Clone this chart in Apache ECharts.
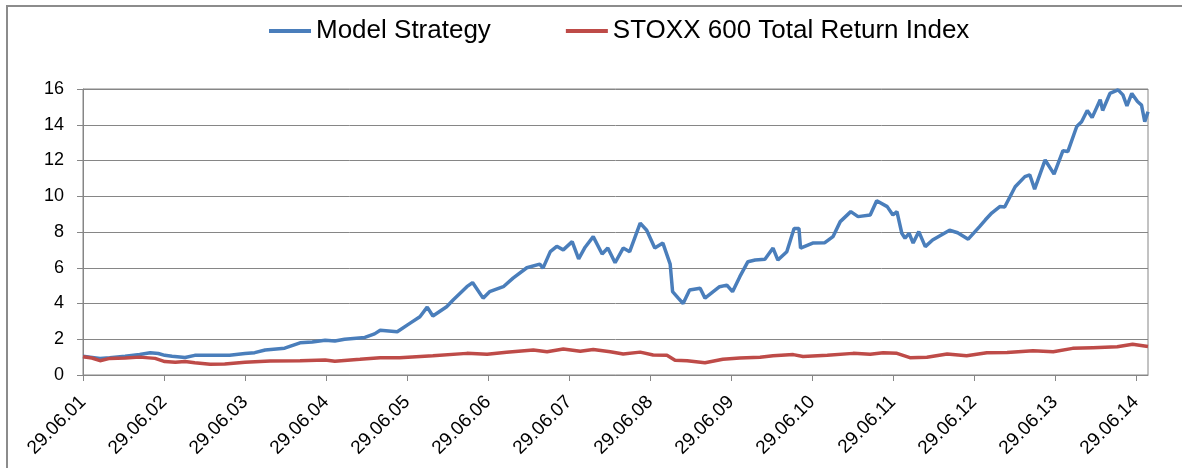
<!DOCTYPE html>
<html>
<head>
<meta charset="utf-8">
<script src="https://cdn.jsdelivr.net/npm/echarts@6/dist/echarts.min.js"></script>
<style>
  html, body { margin: 0; padding: 0; background: #fff; }
  #frame { position: absolute; left: 6px; top: 5px; width: 1176px; height: 463px;
           border-left: 2px solid #8c8c8c; border-top: 2px solid #8c8c8c; box-sizing: border-box; }
  #chart { position: absolute; left: 0; top: 0; width: 1182px; height: 468px; }
</style>
</head>
<body>
<div id="frame"></div>
<div id="chart"></div>
<script>
// time = years since 29.06.2001
const stratTime = [0, 0.09, 0.21, 0.33, 0.52, 0.70, 0.83, 0.93, 1.01, 1.10, 1.26, 1.38, 1.57, 1.81,
  2.00, 2.12, 2.25, 2.49, 2.68, 2.83, 2.99, 3.11, 3.23, 3.48, 3.60, 3.67, 3.88, 4.04, 4.16, 4.25,
  4.32, 4.49, 4.57, 4.74, 4.81, 4.94, 5.02, 5.19, 5.31, 5.48, 5.64, 5.68, 5.77, 5.85, 5.93, 6.04,
  6.12, 6.20, 6.30, 6.41, 6.48, 6.57, 6.67, 6.75, 6.88, 6.96, 7.06, 7.16, 7.25, 7.28, 7.35, 7.41,
  7.49, 7.62, 7.68, 7.86, 7.95, 8.02, 8.11, 8.21, 8.30, 8.42, 8.52, 8.58, 8.69, 8.78, 8.84, 8.86,
  9.01, 9.16, 9.26, 9.35, 9.48, 9.57, 9.72, 9.80, 9.93, 10.00, 10.05, 10.11, 10.15, 10.20, 10.25,
  10.32, 10.40, 10.49, 10.70, 10.80, 10.93, 11.07, 11.14, 11.22, 11.32, 11.38, 11.51, 11.63, 11.69,
  11.75, 11.88, 11.99, 12.10, 12.16, 12.27, 12.33, 12.40, 12.46, 12.56, 12.59, 12.68, 12.78, 12.84,
  12.89, 12.95, 13.02, 13.07, 13.11, 13.15];
const stratValue = [1.05, 1.0, 0.93, 0.97, 1.05, 1.15, 1.25, 1.2, 1.1, 1.05, 0.98, 1.1, 1.1, 1.1,
  1.2, 1.25, 1.4, 1.5, 1.8, 1.85, 1.95, 1.9, 2.0, 2.1, 2.3, 2.5, 2.42, 2.9, 3.26, 3.8,
  3.3, 3.82, 4.2, 4.94, 5.17, 4.3, 4.66, 4.94, 5.42, 6.0, 6.2, 5.98, 6.9, 7.2, 7.0, 7.46,
  6.5, 7.15, 7.74, 6.77, 7.1, 6.28, 7.1, 6.9, 8.5, 8.1, 7.1, 7.38, 6.2, 4.66, 4.3, 4.0,
  4.75, 4.85, 4.3, 4.94, 5.03, 4.66, 5.5, 6.34, 6.43, 6.47, 7.1, 6.43, 6.9, 8.2, 8.2, 7.1,
  7.38, 7.4, 7.74, 8.58, 9.14, 8.86, 8.95, 9.75, 9.42, 8.95, 9.14, 7.93, 7.65, 7.93, 7.38,
  8.02, 7.18, 7.55, 8.1, 7.96, 7.6, 8.3, 8.67, 9.06, 9.42, 9.4, 10.53, 11.1, 11.2,
  10.4, 12.03, 11.24, 12.55, 12.5, 13.9, 14.17, 14.8, 14.4, 15.4, 14.8, 15.75, 15.95, 15.67,
  15.05, 15.75, 15.3, 15.1, 14.17, 14.73];

const stoxxTime = [0, 0.11, 0.21, 0.33, 0.52, 0.70, 0.89, 1.01, 1.14, 1.26, 1.38, 1.57, 1.75, 2.00,
  2.31, 2.68, 2.99, 3.11, 3.42, 3.67, 3.91, 4.32, 4.74, 4.99, 5.23, 5.56, 5.73, 5.93, 6.14, 6.30,
  6.51, 6.67, 6.88, 7.04, 7.21, 7.31, 7.46, 7.68, 7.90, 8.11, 8.36, 8.52, 8.77, 8.89, 9.19, 9.51,
  9.72, 9.88, 10.05, 10.21, 10.42, 10.67, 10.91, 11.16, 11.41, 11.73, 11.98, 12.22, 12.47, 12.77,
  12.96, 13.15];
const stoxxValue = [1.02, 0.95, 0.8, 0.93, 0.95, 1.0, 0.93, 0.75, 0.71, 0.75, 0.68, 0.6, 0.62, 0.71,
  0.78, 0.8, 0.84, 0.77, 0.88, 0.97, 0.97, 1.08, 1.21, 1.16, 1.27, 1.4, 1.3, 1.45, 1.33, 1.43,
  1.3, 1.17, 1.28, 1.12, 1.1, 0.82, 0.8, 0.69, 0.88, 0.95, 0.99, 1.08, 1.14, 1.04, 1.1, 1.21,
  1.16, 1.25, 1.21, 0.97, 0.99, 1.18, 1.08, 1.25, 1.26, 1.36, 1.3, 1.49, 1.53, 1.58,
  1.72, 1.6];

const firstYear = 1; // 29.06.01
const endTime = 13.15;
const yTicks = { min: 0, max: 16, step: 2 };

function pairs(t, v) {
  return t.map((x, i) => [x, v[i]]);
}

const chart = echarts.init(document.getElementById('chart'));
const axisGray = '#868686';
const font = 'Liberation Sans';

chart.setOption({
  animation: false,
  textStyle: { fontFamily: font },
  legend: {
    left: 264,
    top: 13,
    icon: 'rect',
    itemWidth: 42,
    itemHeight: 4,
    itemGap: 75,
    textStyle: { fontSize: 26, color: '#000', fontFamily: font },
    data: ['Model Strategy', 'STOXX 600 Total Return Index']
  },
  grid: {
    left: 83,
    right: 34,
    top: 89,
    bottom: 93,
    show: true,
    borderColor: axisGray,
    borderWidth: 1
  },
  xAxis: {
    type: 'value',
    min: 0,
    max: endTime,
    interval: 1,
    splitLine: { show: false },
    axisLine: { show: true, lineStyle: { color: axisGray } },
    axisTick: { show: true, length: 6, lineStyle: { color: axisGray } },
    axisLabel: {
      rotate: 45,
      fontSize: 19,
      color: '#000',
      margin: 24,
      showMaxLabel: false,
      formatter: v => {
        if (Math.abs(v - Math.round(v)) > 1e-6) return '';
        return '29.06.' + String(firstYear + Math.round(v)).padStart(2, '0');
      }
    }
  },
  yAxis: {
    type: 'value',
    min: yTicks.min,
    max: yTicks.max,
    interval: yTicks.step,
    axisLine: { show: true, lineStyle: { color: axisGray } },
    axisTick: { show: true, length: 6, lineStyle: { color: axisGray } },
    splitLine: { lineStyle: { color: axisGray, width: 1 } },
    axisLabel: { fontSize: 18, color: '#000', margin: 19 }
  },
  series: [
    {
      name: 'Model Strategy',
      type: 'line',
      data: pairs(stratTime, stratValue),
      showSymbol: false,
      symbol: 'none',
      itemStyle: { color: '#4a7ebb' },
      lineStyle: { color: '#4a7ebb', width: 3.5 }
    },
    {
      name: 'STOXX 600 Total Return Index',
      type: 'line',
      data: pairs(stoxxTime, stoxxValue),
      showSymbol: false,
      symbol: 'none',
      itemStyle: { color: '#be4b48' },
      lineStyle: { color: '#be4b48', width: 3.5 }
    }
  ]
});
</script>
</body>
</html>
